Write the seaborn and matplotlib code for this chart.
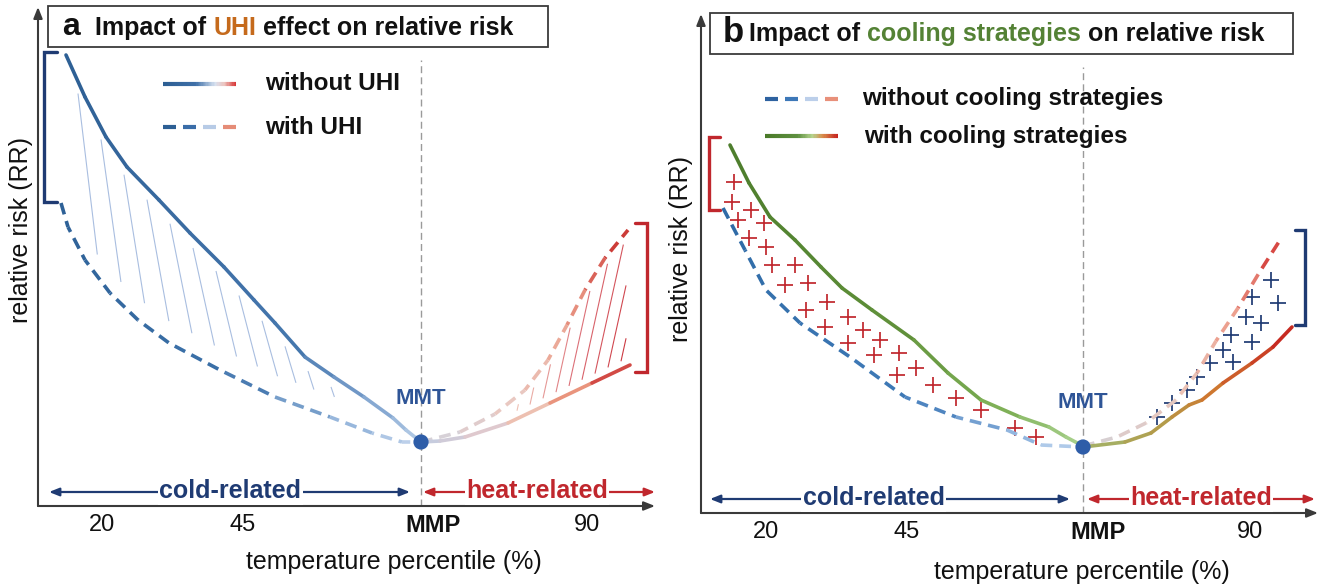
import numpy as np
import matplotlib
matplotlib.use('Agg')
import matplotlib.pyplot as plt
from matplotlib.collections import LineCollection
from matplotlib.colors import LinearSegmentedColormap
from matplotlib.patches import Rectangle
import seaborn as sns

W, H = 1324, 587
sns.set_theme(style='white')
plt.rcParams['font.family'] = ['Liberation Sans', 'DejaVu Sans']
plt.rcParams['lines.scale_dashes'] = False

# ---------------- data (schematic units) ----------------
# panel a : UHI effect
a_without_left_x = [28, 47, 68, 89, 121, 152, 186, 216, 237, 267, 296, 326, 355, 368, 383]
a_without_left_y = [451, 409, 369, 339, 306, 273, 239, 206, 183, 149, 129, 109, 88, 76, 64]
a_with_left_x = [23, 30, 47, 72, 100, 131, 182, 237, 292, 334, 364, 383]
a_with_left_y = [303, 279, 246, 213, 186, 163, 136, 109, 89, 73, 64, 64]
a_with_right_x = [383, 422, 457, 487, 510, 529, 547, 567, 590]
a_with_right_y = [64, 74, 92, 116, 146, 181, 216, 248, 276]
a_without_right_x = [383, 402, 427, 470, 512, 554, 592]
a_without_right_y = [64, 65, 69, 83, 103, 123, 141]

# panel b : cooling strategies
b_with_left_x = [29, 48, 69, 94, 120, 141, 171, 213, 247, 280, 319, 348, 365, 382]
b_with_left_y = [368, 330, 296, 273, 246, 225, 203, 173, 140, 113, 96, 86, 76, 67]
b_without_left_x = [22, 44, 65, 99, 149, 204, 255, 306, 340, 382]
b_without_left_y = [305, 263, 223, 190, 156, 116, 96, 83, 68, 66]
b_without_right_x = [382, 416, 445, 475, 496, 515, 537, 558, 581]
b_without_right_y = [67, 76, 90, 113, 140, 172, 205, 240, 276]
b_with_right_x = [382, 424, 450, 471, 488, 501, 522, 551, 572, 591]
b_with_right_y = [66, 71, 80, 96, 108, 113, 130, 150, 166, 186]

b_plus_red_x = [33, 31, 50, 37, 63, 48, 65, 71, 94, 84, 107, 105, 126, 124, 147, 162, 147, 179,
                173, 198, 196, 215, 232, 255, 280, 314, 335]
b_plus_red_y = [331, 311, 303, 293, 290, 275, 266, 248, 248, 228, 230, 203, 211, 186, 196, 183,
                170, 173, 158, 160, 138, 145, 128, 115, 103, 85, 76]
b_plus_blue_x = [570, 577, 551, 545, 560, 530, 551, 522, 509, 532, 496, 486, 471, 456]
b_plus_blue_y = [233, 210, 216, 196, 190, 178, 171, 163, 150, 151, 136, 123, 110, 96]

mmt_a = (383, 64)
mmt_b = (382, 66)
tick_pos_a = [64, 205, 395, 549]
tick_pos_b = [65, 206, 397, 549]
tick_labels = ['20', '45', 'MMP', '90']

# colours
C_COLD = '#1F3B73'
C_HEAT = '#C0272D'
C_MMT = '#2F5597'
C_AXIS = '#3A3A3A'
C_TXT = '#111111'

fig = plt.figure(figsize=(W / 100, H / 100), dpi=100)


def px_axes(x0, y0, x1, y1):
    return fig.add_axes([x0 / W, 1 - y1 / H, (x1 - x0) / W, (y1 - y0) / H])


axa = px_axes(38, 7, 655, 506)
axb = px_axes(701, 14, 1318, 513)
for ax in (axa, axb):
    ax.set_xlim(0, 617)
    ax.set_ylim(0, 499)
    for s in ax.spines.values():
        s.set_visible(False)
    ax.set_yticks([])
    ax.patch.set_alpha(0)
    ax.annotate('', xy=(1, 0), xytext=(0, 0), xycoords='axes fraction',
                arrowprops=dict(arrowstyle='-|>,head_length=0.55,head_width=0.22',
                                color=C_AXIS, lw=1.5, shrinkA=0, shrinkB=0))
    ax.annotate('', xy=(0, 1), xytext=(0, 0), xycoords='axes fraction',
                arrowprops=dict(arrowstyle='-|>,head_length=0.55,head_width=0.22',
                                color=C_AXIS, lw=1.5, shrinkA=0, shrinkB=0))


def grad_line(ax, x, y, stops, lw=2.6, dashed=False, on=8.5, off=5.0, z=3):
    pts = np.column_stack([x, y]).astype(float)
    segs = np.stack([pts[:-1], pts[1:]], axis=1)
    disp = ax.transData.transform(pts)
    seglen = np.hypot(*np.diff(disp, axis=0).T) * 72 / fig.dpi
    cum = np.concatenate([[0], np.cumsum(seglen)])
    frac = (cum[:-1] + seglen / 2) / cum[-1]
    cmap = LinearSegmentedColormap.from_list('g', stops)
    cols = cmap(frac)
    if dashed:
        per = on + off
        ls = [((c % per), (on, off)) for c in cum[:-1]]
        lc = LineCollection(segs, colors=cols, linewidths=lw, linestyles=ls,
                            capstyle='butt', zorder=z)
    else:
        lc = LineCollection(segs, colors=cols, linewidths=lw, capstyle='round',
                            joinstyle='round', zorder=z)
    ax.add_collection(lc)


def hatch_down(xt_list, tx, ty, bx, by, gt, gb, k0, k1):
    segs = []
    n = len(xt_list)
    for i, xt in enumerate(xt_list):
        k = k0 + (k1 - k0) * i / max(n - 1, 1)
        yt = np.interp(xt, tx, ty) - gt
        t = np.arange(0, 450, 0.5)
        xs, ys = xt + k * t, yt - t
        yb = np.interp(xs, bx, by) + gb
        idx = int(np.argmax(ys <= yb))
        if idx < 8:
            continue
        segs.append([(xt, yt), (xs[idx], ys[idx])])
    return segs


def hatch_up(xb_list, bx, by, tx, ty, gb, gt, k, xmax):
    segs = []
    for xb in xb_list:
        yb = np.interp(xb, bx, by) + gb
        t = np.arange(0, 450, 0.5)
        xs, ys = xb + k * t, yb + t
        yt = np.interp(xs, tx, ty) - gt
        idx = int(np.argmax((ys >= yt) | (xs >= xmax)))
        if idx < 8:
            continue
        segs.append([(xb, yb), (xs[idx], ys[idx])])
    return segs


# ---------------- panel a ----------------
ax = axa
segs = hatch_down(np.arange(40, 360, 23), a_without_left_x, a_without_left_y,
                  a_with_left_x, a_with_left_y, 12, 22, 0.12, 0.38)
ax.add_collection(LineCollection(segs, colors='#A9BEE0', linewidths=0.8, zorder=2))
segs = hatch_up(np.arange(440, 596, 13), a_without_right_x, a_without_right_y,
                a_with_right_x, a_with_right_y, 8, 9, 0.22, 588)
cm = LinearSegmentedColormap.from_list('r', ['#EFC0B4', '#DC7078', '#CC3A42'])
ax.add_collection(LineCollection(segs, colors=[cm(i / max(len(segs) - 1, 1)) for i in range(len(segs))],
                                 linewidths=0.8, zorder=2))

grad_line(ax, a_without_left_x, a_without_left_y,
          [(0, '#2C5E93'), (0.7, '#4677AE'), (0.88, '#7FA3CF'), (1, '#B4CBE6')])
grad_line(ax, a_with_left_x, a_with_left_y,
          [(0, '#2D6096'), (0.55, '#3D72AA'), (0.8, '#8EB0D8'), (1, '#C2D4EC')], dashed=True)
grad_line(ax, a_with_right_x, a_with_right_y,
          [(0, '#D3D3DC'), (0.35, '#EBC7BE'), (0.65, '#EB9E8A'), (1, '#C62828')], dashed=True)
grad_line(ax, a_without_right_x, a_without_right_y,
          [(0, '#C3CCE0'), (0.4, '#E8C8C8'), (0.62, '#F3B697'), (1, '#C8282B')])

ax.plot([19, 6, 6, 19], [454, 454, 304, 304], color=C_COLD, lw=2.4, solid_joinstyle='miter')
ax.plot([597, 609, 609, 597], [283, 283, 134, 134], color=C_HEAT, lw=2.4, solid_joinstyle='miter')

# ---------------- panel b ----------------
ax = axb
grad_line(ax, b_with_left_x, b_with_left_y,
          [(0, '#4C7D2C'), (0.5, '#5E8E38'), (0.8, '#7DAF55'), (1, '#A9D18E')])
grad_line(ax, b_without_left_x, b_without_left_y,
          [(0, '#2E6AA5'), (0.6, '#3F7AB8'), (0.85, '#8DB2DD'), (1, '#BDD3EE')], dashed=True)
grad_line(ax, b_without_right_x, b_without_right_y,
          [(0, '#D4D1D6'), (0.4, '#EBC3B6'), (0.7, '#EC9A88'), (1, '#D0302F')], dashed=True)
grad_line(ax, b_with_right_x, b_with_right_y,
          [(0, '#A2B46A'), (0.35, '#B49A48'), (0.6, '#D0752E'), (1, '#C61F1F')])

sns.scatterplot(x=b_plus_red_x, y=b_plus_red_y, marker='+', s=120, color=C_HEAT,
                linewidth=1.25, ax=ax, legend=False, zorder=2)
sns.scatterplot(x=b_plus_blue_x, y=b_plus_blue_y, marker='+', s=120, color=C_COLD,
                linewidth=1.25, ax=ax, legend=False, zorder=2)

ax.plot([19, 8, 8, 19], [376, 376, 303, 303], color=C_HEAT, lw=2.4, solid_joinstyle='miter')
ax.plot([594, 604, 604, 594], [283, 283, 188, 188], color=C_COLD, lw=2.4, solid_joinstyle='miter')


def ftext(x, y, s, **kw):
    return fig.text(x / W, 1 - y / H, s, **kw)


# ---------------- shared decorations ----------------
for ax, mmt, tp, xlx, xly in ((axa, mmt_a, tick_pos_a, 356, -56),
                               (axb, mmt_b, tick_pos_b, 381, -59)):
    ax.plot([mmt[0], mmt[0]], [0, 446], color='#9A9A9A', lw=1.0, ls=(0, (5, 3)), zorder=1)
    sns.scatterplot(x=[mmt[0]], y=[mmt[1]], s=120, color='#2E5DA8', edgecolor='none',
                    ax=ax, legend=False, zorder=6)
    ax.text(mmt[0], mmt[1] + 44, 'MMT', color=C_MMT, fontsize=16, fontweight='bold',
            ha='center', va='center')
    ax.set_xticks(tp, tick_labels)
    ax.tick_params(axis='x', length=0, pad=5.5, labelsize=17, labelcolor=C_TXT)
    ax.get_xticklabels()[2].set_fontweight('bold')
    ax.set_xlabel('temperature percentile (%)', fontsize=18, color=C_TXT)
    ax.xaxis.set_label_coords(xlx / 617, xly / 499)
    ax.xaxis.label.set_va('center')
    ax.set_ylabel('')

ftext(21, 230, 'relative risk (RR)', fontsize=18, color=C_TXT, rotation=90,
      ha='center', va='center')
ftext(681, 249, 'relative risk (RR)', fontsize=18, color=C_TXT, rotation=90,
      ha='center', va='center')

# cold / heat arrows
for ax, cold, heat, ctx, htx in ((axa, (11, 372), (385, 617), 192, 499),
                                  (axb, (9, 369), (386, 614), 173, 500)):
    for (x0, x1), tx, col, lab in ((cold, ctx, C_COLD, 'cold-related'),
                                   (heat, htx, C_HEAT, 'heat-related')):
        ax.annotate('', xy=(x0, 14), xytext=(x1, 14),
                    arrowprops=dict(arrowstyle='<|-|>,head_length=0.5,head_width=0.2',
                                    color=col, lw=1.6, shrinkA=0, shrinkB=0))
        ax.text(tx, 15, lab, color=col, fontsize=18, fontweight='bold', ha='center',
                va='center', bbox=dict(facecolor='white', edgecolor='none', pad=1.0))


def legend_swatches(ax, x0, x1, y_solid, y_dash, solid_stops, dash_cols):
    xs = np.linspace(x0, x1, 60)
    cmap = LinearSegmentedColormap.from_list('l', solid_stops)
    segs = [[(xs[i], y_solid), (xs[i + 1], y_solid)] for i in range(len(xs) - 1)]
    ax.add_collection(LineCollection(segs, colors=cmap(np.linspace(0, 1, len(segs))),
                                     linewidths=3.0, capstyle='butt'))
    dl = (x1 - x0) / (4 + 3 * 0.55)
    for i, c in enumerate(dash_cols):
        a = x0 + i * dl * 1.55
        ax.plot([a, a + dl], [y_dash, y_dash], color=c, lw=3.0, solid_capstyle='butt')


legend_swatches(axa, 125, 198, 422, 379,
                [(0, '#2C5E93'), (0.45, '#3F70A8'), (0.72, '#D8E2F0'), (0.85, '#EDC2BC'), (1, '#D83838')],
                ['#2D5F94', '#3A6DA8', '#B7CBE6', '#E58C77'])
legend_swatches(axb, 64, 137, 377, 414,
                [(0, '#4A7A28'), (0.45, '#5E9040'), (0.65, '#B5D48E'), (0.8, '#D88A4A'), (1, '#C62420')],
                ['#2E62A0', '#3D78B8', '#BCCFEA', '#E8907A'])

ftext(265, 84, 'without UHI', fontsize=17.5, fontweight='bold', va='center', color=C_TXT)
ftext(265, 127, 'with UHI', fontsize=17.5, fontweight='bold', va='center', color=C_TXT)
ftext(862, 99, 'without cooling strategies', fontsize=17.5, fontweight='bold', va='center', color=C_TXT)
ftext(864, 136, 'with cooling strategies', fontsize=17.5, fontweight='bold', va='center', color=C_TXT)

# titles
fig.add_artist(Rectangle((48 / W, 1 - 47 / H), 500 / W, 41 / H, transform=fig.transFigure,
                         fill=False, ec=C_AXIS, lw=1.3))
fig.add_artist(Rectangle((710 / W, 1 - 54 / H), 583 / W, 41 / H, transform=fig.transFigure,
                         fill=False, ec=C_AXIS, lw=1.3))
renderer = fig.canvas.get_renderer()


def rich(x, y, parts, **kw):
    for s, c in parts:
        t = ftext(x, y, s, color=c, ha='left', va='center', **kw)
        x += t.get_window_extent(renderer=renderer).width


ftext(62, 27, 'a', fontsize=23, fontweight='bold', va='center', color=C_TXT)
ftext(723, 33, 'b', fontsize=25, fontweight='bold', va='center', color=C_TXT)
rich(95, 28, [('Impact of ', C_TXT), ('UHI', '#C56A1C'),
              (' effect on relative risk', C_TXT)], fontsize=18, fontweight='bold')
rich(749, 34, [('Impact of ', C_TXT), ('cooling strategies', '#548235'),
               (' on relative risk', C_TXT)], fontsize=18, fontweight='bold')

fig.savefig('out.png', dpi=100)
